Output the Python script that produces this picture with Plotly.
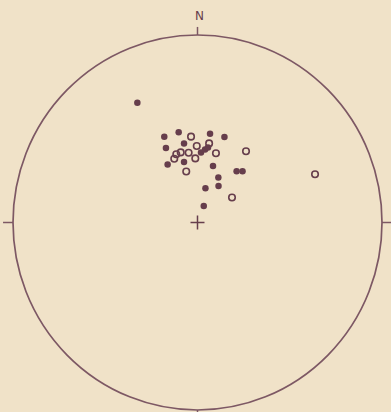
import plotly.graph_objects as go

# Stereographic projection, unit circle: x = east, y = north
filled_x = [-0.326, -0.180, -0.102, 0.068, 0.146, -0.171, -0.073, -0.162, -0.073,
            0.084, 0.212, 0.244, 0.113, 0.114, 0.043, 0.034, 0.019, 0.041, 0.057]
filled_y = [0.639, 0.458, 0.481, 0.473, 0.456, 0.397, 0.422, 0.309, 0.323,
            0.301, 0.273, 0.273, 0.240, 0.195, 0.183, 0.088, 0.373, 0.389, 0.400]

open_x = [-0.035, -0.004, 0.063, 0.100, 0.263, -0.091, -0.115, -0.126, -0.048,
          -0.012, -0.061, 0.187, 0.637]
open_y = [0.458, 0.408, 0.422, 0.369, 0.380, 0.374, 0.364, 0.340, 0.372,
          0.342, 0.272, 0.133, 0.257]

ink = "#663e4c"
rim = "#7d5864"
paper = "#f0e2c8"

fig = go.Figure()

fig.add_trace(go.Scatter(
    x=filled_x, y=filled_y, mode="markers",
    marker=dict(symbol="circle", size=6.5, color=ink, line=dict(width=0)),
    hoverinfo="skip", showlegend=False))

fig.add_trace(go.Scatter(
    x=open_x, y=open_y, mode="markers",
    marker=dict(symbol="circle-open", size=6.5, color=ink, line=dict(width=1.6)),
    hoverinfo="skip", showlegend=False))

# centre of the net
fig.add_trace(go.Scatter(
    x=[0], y=[0], mode="markers",
    marker=dict(symbol="cross-thin-open", size=10, color=ink, line=dict(width=1.5, color=ink)),
    hoverinfo="skip", showlegend=False))

# primitive circle
fig.add_shape(type="circle", xref="x", yref="y", x0=-1, x1=1, y0=-1, y1=1,
              line=dict(color=rim, width=1.7))

# cardinal ticks
for x0, y0, x1, y1 in [(0, 1, 0, 1.043), (-1, 0, -1.054, 0),
                       (1, 0, 1.054, 0), (0, -1, 0, -1.043)]:
    fig.add_shape(type="line", xref="x", yref="y", x0=x0, y0=y0, x1=x1, y1=y1,
                  line=dict(color=rim, width=1.5))

fig.add_annotation(x=0.012, y=1.103, text="N", showarrow=False,
                   font=dict(family="DejaVu Sans", size=12, color=ink))

fig.update_xaxes(range=[-1.0705, 1.0488], visible=False, showgrid=False, zeroline=False)
fig.update_yaxes(range=[-1.0107, 1.1867], visible=False, showgrid=False, zeroline=False)

fig.update_layout(width=391, height=412, margin=dict(l=0, r=0, t=0, b=0),
                  paper_bgcolor=paper, plot_bgcolor=paper)

fig.write_html("out.html")
